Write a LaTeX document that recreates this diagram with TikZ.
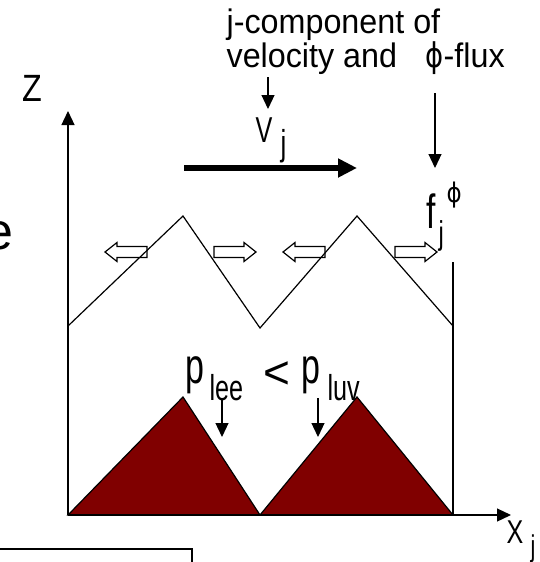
\documentclass[tikz,border=0pt]{standalone}
\usepackage{fontspec}
\setmainfont{Liberation Sans}
\newfontfamily\dvs{DejaVu Sans}
\usepackage{graphicx}
\usetikzlibrary{arrows.meta}
\definecolor{dune}{RGB}{128,0,0}
\newcommand\fs[1]{\fontsize{#1}{#1}\selectfont}
\newcommand\nar[2]{\scalebox{#1}[1]{#2}}
\begin{document}
\begin{tikzpicture}[x=1pt,y=-1pt,line width=1.2pt,
  tip/.style={-{Triangle[length=14pt,width=13pt]}},
  lbl/.style={inner sep=0pt},
  hollow/.pic={\draw[line width=1.2pt] (-21,-5.5) -- (9,-5.5) -- (9,-9.5) -- (21,0)
       -- (9,9.5) -- (9,5.5) -- (-21,5.5) -- cycle;}]
\useasboundingbox (0,0) rectangle (539,562);
% axes
\coordinate (O) at (68,515);
\coordinate (Ztop) at (68,111);
\coordinate (Xtip) at (511,515);
% upper zigzag
\coordinate (u0) at (68,326);
\coordinate (u1) at (183,216);
\coordinate (u2) at (260,328);
\coordinate (u3) at (357,216);
\coordinate (u4) at (453,326);
\coordinate (r0) at (453,262);
\coordinate (r1) at (453,515);
% lower dunes
\coordinate (l1) at (183,397);
\coordinate (l2) at (260,515);
\coordinate (l3) at (357,397);
\filldraw[fill=dune] (O) -- (l1) -- (l2) -- cycle;
\filldraw[fill=dune] (l2) -- (l3) -- (r1) -- cycle;
\draw[tip] (O) -- (Ztop);
\draw[tip] (O) -- (Xtip);
\draw (u0) -- (u1) -- (u2) -- (u3) -- (u4);
\draw (r0) -- (r1);
% hollow arrows
\pic[xscale=-1] at (126,252) {hollow};
\pic at (235,252) {hollow};
\pic[xscale=-1] at (304,252) {hollow};
\pic at (416,252) {hollow};
% thick velocity arrow
\coordinate (v0) at (184,168);
\coordinate (v1) at (357,168);
\draw[line width=6pt, -{Triangle[length=19pt,width=18pt]}] (v0) -- (v1);
% top texts
\node[lbl, anchor=base west, font=\fs{34}] (t1) at (226,33) {\nar{0.95}{j-component of}};
\node[lbl, anchor=base west, font=\fs{34}] (t2) at (226,67) {\nar{0.95}{velocity and}};
\node[lbl, anchor=base west, font=\fs{34}] (t3) at (425,67) {\nar{0.95}{{\dvs\nar{0.85}{ϕ}}-flux}};
% V_j
\node[lbl, anchor=base west, font=\fs{36}] (V) at (255,142) {\nar{0.7}{V}};
\node[lbl, anchor=base west, font=\fs{36}] (Vj) at (280,155) {\nar{0.72}{j}};
\coordinate (va) at (268,77);
\coordinate (vb) at (268,109);
\draw[tip] (va) -- (vb);
% f_j^phi
\coordinate (fa) at (435,93);
\coordinate (fb) at (435,168);
\draw[tip] (fa) -- (fb);
\node[lbl, anchor=base west, font=\fs{48}] (f) at (426,228) {\nar{0.7}{f}};
\node[lbl, anchor=base west, font=\fs{27}] (fphi) at (446,202) {\dvs\nar{0.85}{ϕ}};
\node[lbl, anchor=base west, font=\fs{33}] (fj) at (438,244) {\nar{0.72}{j}};
% pressures
\node[lbl, anchor=base west, font=\fs{50}] (p1) at (185,383) {\nar{0.68}{p}};
\node[lbl, anchor=base west, font=\fs{36}] (lee) at (209,400) {\nar{0.7}{lee}};
\node[lbl, font=\fs{46}] (lt) at (277,375) {<};
\node[lbl, anchor=base west, font=\fs{50}] (p2) at (301,383) {\nar{0.68}{p}};
\node[lbl, anchor=base west, font=\fs{36}] (luv) at (327,400) {\nar{0.7}{luv}};
\coordinate (pa) at (222,398);
\coordinate (pb) at (222,437);
\coordinate (qa) at (318,398);
\coordinate (qb) at (318,437);
\draw[tip] (pa) -- (pb);
\draw[tip] (qa) -- (qb);
% axis labels
\node[lbl, font=\fs{38}] (Z) at (32,88) {\nar{0.85}{Z}};
\node[lbl, font=\fs{33}] (X) at (515,532) {\nar{0.76}{X}};
\node[lbl, anchor=base west, font=\fs{30}] (Xj) at (530,556) {\nar{0.72}{j}};
% cut-off text and box at edges
\node[lbl, anchor=base east, font=\fs{52}] (e) at (14,249) {e};
\coordinate (b0) at (-5,549);
\coordinate (b1) at (192,549);
\coordinate (b2) at (192,575);
\draw (b0) -- (b1) -- (b2);
\end{tikzpicture}
\end{document}
